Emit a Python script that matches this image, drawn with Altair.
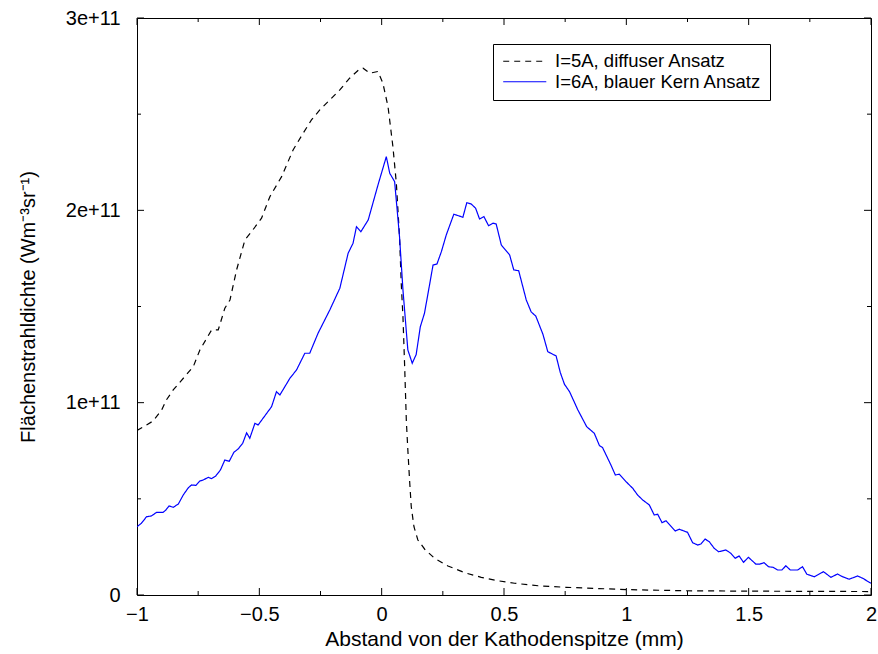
import altair as alt
import pandas as pd

# ---- data (values in units of 1e11 W m^-3 sr^-1) ----
series_names = ["I=5A, diffuser Ansatz", "I=6A, blauer Kern Ansatz"]
series_colors = ["black", "#0000ff"]

x_5A = [-1.000, -0.961, -0.934, -0.900, -0.880, -0.852, -0.770, -0.743, -0.695, -0.668,
        -0.641, -0.620, -0.593, -0.559, -0.532, -0.491, -0.457, -0.409, -0.362, -0.321,
        -0.287, -0.253, -0.212, -0.171, -0.131, -0.090, -0.076, -0.049, -0.015, 0.005,
        0.026, 0.046, 0.060, 0.073, 0.080, 0.087, 0.094, 0.101, 0.107, 0.114,
        0.121, 0.132, 0.148, 0.176, 0.216, 0.271, 0.339, 0.407, 0.475, 0.543,
        0.639, 0.754, 0.999, 1.244, 1.500, 2.000]
y_5A = [0.855, 0.884, 0.905, 0.960, 1.014, 1.066, 1.187, 1.274, 1.378, 1.378,
        1.491, 1.534, 1.690, 1.846, 1.889, 1.959, 2.071, 2.175, 2.314, 2.401,
        2.470, 2.522, 2.574, 2.626, 2.687, 2.735, 2.739, 2.713, 2.722, 2.661,
        2.539, 2.331, 2.141, 1.863, 1.621, 1.447, 1.187, 0.900, 0.754, 0.598,
        0.459, 0.355, 0.286, 0.238, 0.191, 0.151, 0.116, 0.092, 0.074, 0.061,
        0.048, 0.040, 0.028, 0.022, 0.020, 0.018]

x_6A = [-1.000, -0.982, -0.961, -0.941, -0.920, -0.893, -0.882, -0.869, -0.852, -0.831,
        -0.811, -0.790, -0.777, -0.759, -0.743, -0.729, -0.709, -0.695, -0.678, -0.659,
        -0.641, -0.623, -0.604, -0.586, -0.568, -0.552, -0.539, -0.518, -0.505, -0.450,
        -0.430, -0.416, -0.375, -0.348, -0.314, -0.294, -0.260, -0.212, -0.171, -0.137,
        -0.117, -0.103, -0.085, -0.055, -0.015, 0.019, 0.033, 0.053, 0.073, 0.087,
        0.107, 0.125, 0.141, 0.158, 0.175, 0.192, 0.210, 0.226, 0.244, 0.264,
        0.295, 0.332, 0.348, 0.366, 0.384, 0.400, 0.418, 0.437, 0.455, 0.468,
        0.489, 0.523, 0.540, 0.560, 0.591, 0.611, 0.630, 0.659, 0.679, 0.713,
        0.730, 0.747, 0.768, 0.802, 0.838, 0.869, 0.890, 0.903, 0.937, 0.955,
        0.971, 0.999, 1.026, 1.046, 1.067, 1.094, 1.114, 1.128, 1.146, 1.162,
        1.200, 1.216, 1.250, 1.271, 1.291, 1.305, 1.322, 1.339, 1.359, 1.377,
        1.407, 1.427, 1.445, 1.461, 1.479, 1.499, 1.529, 1.546, 1.563, 1.581,
        1.600, 1.618, 1.636, 1.652, 1.670, 1.700, 1.720, 1.738, 1.768, 1.806,
        1.836, 1.863, 1.884, 1.911, 1.945, 1.966, 2.000]
y_6A = [0.355, 0.373, 0.407, 0.411, 0.430, 0.430, 0.442, 0.463, 0.456, 0.473,
        0.520, 0.558, 0.572, 0.570, 0.593, 0.598, 0.612, 0.605, 0.619, 0.650,
        0.702, 0.695, 0.742, 0.760, 0.789, 0.843, 0.815, 0.893, 0.884, 0.979,
        1.057, 1.040, 1.127, 1.170, 1.257, 1.257, 1.361, 1.482, 1.595, 1.777,
        1.829, 1.915, 1.889, 1.950, 2.132, 2.279, 2.193, 2.149, 1.863, 1.586,
        1.274, 1.205, 1.250, 1.395, 1.465, 1.586, 1.716, 1.721, 1.785, 1.872,
        1.980, 1.964, 2.040, 2.033, 2.011, 1.955, 1.967, 1.920, 1.933, 1.929,
        1.820, 1.768, 1.690, 1.686, 1.534, 1.472, 1.450, 1.356, 1.265, 1.243,
        1.157, 1.096, 1.057, 0.962, 0.875, 0.841, 0.777, 0.766, 0.676, 0.624,
        0.628, 0.589, 0.555, 0.520, 0.494, 0.468, 0.416, 0.420, 0.376, 0.386,
        0.333, 0.342, 0.326, 0.272, 0.260, 0.265, 0.291, 0.277, 0.243, 0.225,
        0.234, 0.217, 0.191, 0.203, 0.170, 0.196, 0.161, 0.161, 0.168, 0.147,
        0.144, 0.130, 0.130, 0.152, 0.130, 0.130, 0.147, 0.108, 0.095, 0.121,
        0.092, 0.109, 0.095, 0.082, 0.099, 0.087, 0.061]

x_ticks_major = [-1, -0.5, 0, 0.5, 1, 1.5, 2]
x_ticks_minor = [-0.75, -0.25, 0.25, 0.75, 1.25, 1.75]
y_ticks_major = [0, 1e11, 2e11, 3e11]
y_ticks_minor = [0.5e11, 1.5e11, 2.5e11]

# ---- build tables ----
df = pd.concat([
    pd.DataFrame({"x": x_5A, "y": [v * 1e11 for v in y_5A], "series": series_names[0]}),
    pd.DataFrame({"x": x_6A, "y": [v * 1e11 for v in y_6A], "series": series_names[1]}),
], ignore_index=True)

W, H = 734, 577
FONT = "Liberation Sans"

xs = alt.Scale(domain=[-1, 2], nice=False, zero=False)
ys = alt.Scale(domain=[0, 3e11], nice=False, zero=False)

x_axis = alt.Axis(
    values=x_ticks_major, title="Abstand von der Kathodenspitze (mm)",
    ticks=False, tickSize=0, domain=False, grid=False, labelFlush=False, labelOverlap=False,
    labelFont=FONT, labelFontSize=20, labelColor="black", labelPadding=9,
    labelExpr="replace(format(datum.value, '~g'), '-', '\u2212')",
    titleFont=FONT, titleFontSize=21, titleFontWeight="normal", titleColor="black", titlePadding=4,
)
y_axis = alt.Axis(
    values=y_ticks_major, title="Flächenstrahldichte (Wm\u207b\u00b3sr\u207b\u00b9)",
    ticks=False, tickSize=0, domain=False, grid=False, labelFlush=False, labelOverlap=False,
    labelFont=FONT, labelFontSize=20, labelColor="black", labelPadding=17,
    labelExpr="datum.value == 0 ? '0' : format(datum.value / 1e11, 'd') + 'e+11'",
    titleFont=FONT, titleFontSize=20, titleFontWeight="normal", titleColor="black", titlePadding=27,
)

is_first = "datum.value == '" + series_names[0] + "'"
legend = alt.Legend(
    title=None, orient="none", legendX=356, legendY=26,
    strokeColor="black", fillColor="white", padding=8,
    labelFont=FONT, labelFontSize=18.5, labelColor="black", labelLimit=400,
    symbolType="M-4,0H4", symbolSize=116, symbolStrokeWidth=1.2,
    symbolOffset=14.5, labelOffset=21, rowPadding=1.5,
    symbolDash={"expr": is_first + " ? [6, 5] : [1, 0]"},
    symbolStrokeColor={"expr": is_first + " ? '" + series_colors[0] + "' : '" + series_colors[1] + "'"},
)

lines = alt.Chart(df).mark_line(strokeWidth=1.2, clip=True).encode(
    x=alt.X("x:Q", scale=xs, axis=x_axis),
    y=alt.Y("y:Q", scale=ys, axis=y_axis),
    color=alt.Color("series:N", scale=alt.Scale(domain=series_names, range=series_colors), legend=legend),
    strokeDash=alt.StrokeDash("series:N", scale=alt.Scale(domain=series_names, range=[[6, 5], [1, 0]]), legend=None),
)

def xticks(vals, length):
    d = pd.DataFrame({"x": vals})
    bottom = alt.Chart(d).mark_rule(color="black", strokeWidth=1).encode(
        x=alt.X("x:Q", scale=xs, axis=x_axis), y=alt.value(H), y2=alt.value(H - length))
    top = alt.Chart(d).mark_rule(color="black", strokeWidth=1).encode(
        x=alt.X("x:Q", scale=xs, axis=x_axis), y=alt.value(0), y2=alt.value(length))
    return [bottom, top]

def yticks(vals, length):
    d = pd.DataFrame({"y": vals})
    left = alt.Chart(d).mark_rule(color="black", strokeWidth=1).encode(
        y=alt.Y("y:Q", scale=ys, axis=y_axis), x=alt.value(0), x2=alt.value(length))
    right = alt.Chart(d).mark_rule(color="black", strokeWidth=1).encode(
        y=alt.Y("y:Q", scale=ys, axis=y_axis), x=alt.value(W), x2=alt.value(W - length))
    return [left, right]

layers = (xticks(x_ticks_major, 7) + xticks(x_ticks_minor, 4)
          + yticks(y_ticks_major, 7) + yticks(y_ticks_minor, 4) + [lines])

chart = alt.layer(*layers).properties(
    width=W, height=H,
    padding={"left": 137, "top": 18, "right": 7, "bottom": 59},
    autosize=alt.AutoSizeParams(type="none"),
    background="white",
).configure_view(stroke="black", strokeWidth=1)

chart.save("out.html", embed_options={"renderer": "svg", "actions": False})
